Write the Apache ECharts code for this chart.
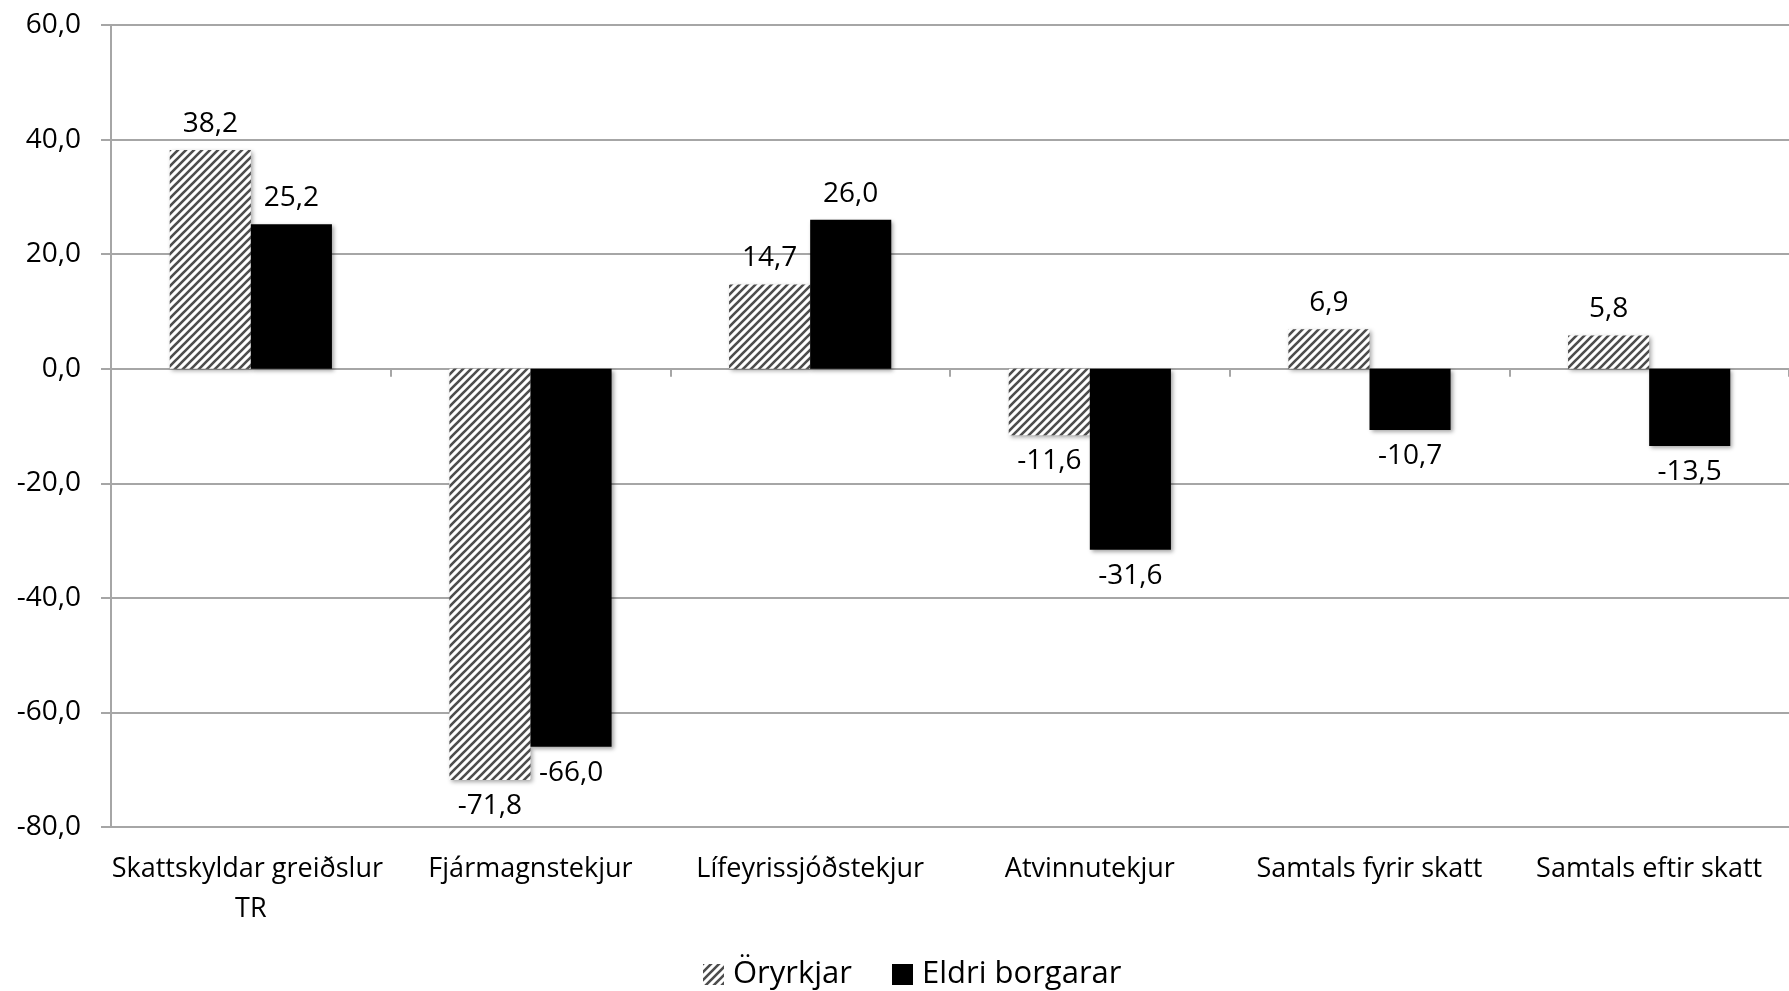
<!DOCTYPE html>
<html>
<head>
<meta charset="utf-8">
<script src="https://cdn.jsdelivr.net/npm/echarts@6/dist/echarts.min.js"></script>
<style>
  html, body { margin: 0; padding: 0; background: #fff; }
  #chart { width: 1789px; height: 991px; }
</style>
</head>
<body>
<div id="chart"></div>
<script>
var categories = ['Skattskyldar greiðslur TR', 'Fjármagnstekjur', 'Lífeyrissjóðstekjur', 'Atvinnutekjur', 'Samtals fyrir skatt', 'Samtals eftir skatt'];
var oryrkjar = [38.2, -71.8, 14.7, -11.6, 6.9, 5.8];
var eldri = [25.2, -66.0, 26.0, -31.6, -10.7, -13.5];
var seriesNames = ['Öryrkjar', 'Eldri borgarar'];

function fmt(v) {
  return Number(v).toFixed(1).replace('.', ',');
}

// diagonal hatch like the excel pattern fill
function hatch() {
  var c = document.createElement('canvas');
  c.width = 8; c.height = 8;
  var ctx = c.getContext('2d');
  ctx.fillStyle = '#ffffff';
  ctx.fillRect(0, 0, 8, 8);
  ctx.strokeStyle = '#4d4d4d';
  ctx.lineWidth = 2.6;
  ctx.beginPath();
  ctx.moveTo(-2, 10); ctx.lineTo(10, -2);
  ctx.moveTo(-6, 6); ctx.lineTo(6, -6);
  ctx.moveTo(2, 14); ctx.lineTo(14, 2);
  ctx.stroke();
  return c;
}

function withLabels(arr) {
  return arr.map(function (v) {
    return { value: v, label: { position: v < 0 ? 'bottom' : 'top' } };
  });
}

var font = '"Open Sans", sans-serif';
var shadow = { shadowColor: 'rgba(0,0,0,0.35)', shadowBlur: 4, shadowOffsetX: 2, shadowOffsetY: 2 };

var myChart = echarts.init(document.getElementById('chart'));
var option = {
  animation: false,
  textStyle: { fontFamily: font },
  grid: { left: 111, right: 0, top: 25, bottom: 164, containLabel: false, outerBoundsMode: 'none' },
  legend: {
    top: 954,
    left: 698,
    itemWidth: 21,
    itemHeight: 21,
    itemGap: 40,
    icon: 'rect',
    textStyle: { fontSize: 31, color: '#000', fontFamily: font, padding: [0, 0, 0, 4] },
    data: seriesNames
  },
  xAxis: [
    {
      type: 'category',
      data: categories,
      position: 'bottom',
      axisLine: { show: false, onZero: false },
      axisTick: { show: false },
      axisLabel: {
        color: '#000', fontSize: 27, fontFamily: font, margin: 22,
        width: 305, overflow: 'break', lineHeight: 40, interval: 0
      }
    },
    {
      type: 'category',
      data: categories,
      position: 'bottom',
      axisLine: { show: true, onZero: true, lineStyle: { color: '#a6a6a6', width: 2 } },
      axisTick: { show: true, length: 8, inside: false, lineStyle: { color: '#a6a6a6', width: 2 } },
      axisLabel: { show: false }
    }
  ],
  yAxis: {
    type: 'value',
    min: -80,
    max: 60,
    interval: 20,
    axisLine: { show: true, lineStyle: { color: '#a6a6a6', width: 2 } },
    axisTick: { show: true, length: 10, lineStyle: { color: '#a6a6a6', width: 2 } },
    splitLine: { show: true, lineStyle: { color: '#a6a6a6', width: 2 } },
    axisLabel: { color: '#000', fontSize: 28, fontFamily: font, margin: 30, formatter: fmt }
  },
  series: [
    {
      name: seriesNames[0],
      type: 'bar',
      barGap: '0%',
      barCategoryGap: '42%',
      itemStyle: Object.assign({ color: { image: hatch(), repeat: 'repeat' } }, shadow),
      label: { show: true, color: '#000', fontSize: 28, fontFamily: font, distance: 12, formatter: function (p) { return fmt(p.value); } },
      data: withLabels(oryrkjar)
    },
    {
      name: seriesNames[1],
      type: 'bar',
      barGap: '0%',
      barCategoryGap: '42%',
      itemStyle: Object.assign({ color: '#000' }, shadow),
      label: { show: true, color: '#000', fontSize: 28, fontFamily: font, distance: 12, formatter: function (p) { return fmt(p.value); } },
      data: withLabels(eldri)
    }
  ]
};
myChart.setOption(option);
</script>
</body>
</html>
